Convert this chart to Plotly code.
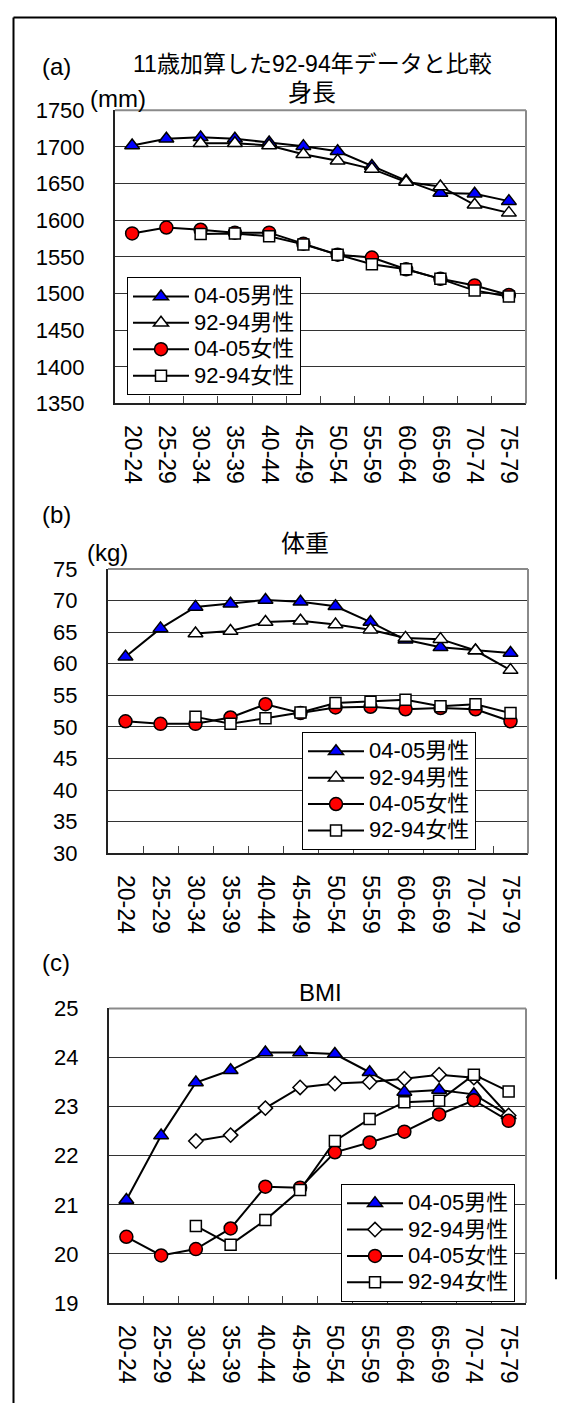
import plotly.graph_objects as go

# Age groups shared by all three panels
age_groups = ["20-24", "25-29", "30-34", "35-39", "40-44", "45-49",
              "50-54", "55-59", "60-64", "65-69", "70-74", "75-79"]

# (a) Height, mm
height_m_0405 = [1702, 1711, 1713, 1711, 1706, 1701, 1694, 1674, 1654, 1637, 1636, 1626]
height_m_9294 = [None, None, 1705, 1705, 1702, 1690, 1681, 1670, 1652, 1646, 1621, 1610]
height_f_0405 = [1582, 1590, 1587, 1583, 1583, 1568, 1553, 1549, 1533, 1520, 1511, 1498]
height_f_9294 = [None, None, 1581, 1582, 1578, 1567, 1553, 1540, 1533, 1520, 1504, 1496]

# (b) Weight, kg
weight_m_0405 = [61.1, 65.6, 69.0, 69.5, 70.1, 69.8, 69.1, 66.6, 63.8, 62.6, 62.1, 61.7]
weight_m_9294 = [None, None, 64.8, 65.2, 66.6, 66.8, 66.2, 65.4, 64.1, 63.9, 62.1, 59.0]
weight_f_0405 = [50.9, 50.5, 50.5, 51.5, 53.6, 52.2, 53.1, 53.2, 52.8, 53.0, 52.8, 50.9]
weight_f_9294 = [None, None, 51.6, 50.5, 51.4, 52.3, 53.8, 54.0, 54.3, 53.3, 53.6, 52.2]

# (c) BMI
bmi_m_0405 = [21.10, 22.41, 23.49, 23.74, 24.10, 24.10, 24.07, 23.70, 23.30, 23.34, 23.25, 22.82]
bmi_m_9294 = [None, None, 22.30, 22.42, 22.97, 23.39, 23.47, 23.50, 23.57, 23.65, 23.59, 22.82]
bmi_f_0405 = [20.35, 19.97, 20.10, 20.52, 21.37, 21.35, 22.07, 22.27, 22.49, 22.84, 23.13, 22.71]
bmi_f_9294 = [None, None, 20.57, 20.19, 20.69, 21.30, 22.30, 22.75, 23.09, 23.12, 23.65, 23.31]

series_names = ["04-05男性", "92-94男性", "04-05女性", "92-94女性"]

W, H = 569, 1416
FONT = "Liberation Sans, Noto Sans CJK JP, sans-serif"
FS = 22


def px_x(x):
    return x / W


def px_y(y):
    return 1 - y / H


panels = [
    dict(x=(115, 526), y=(100, 398.5), yr=(1350, 1750), dt=50,
         data=[height_m_0405, height_m_9294, height_f_0405, height_f_9294],
         sym2="triangle-up", sz2=13, leg=(127, 270)),
    dict(x=(108, 528), y=(567, 856.5), yr=(30, 75), dt=5,
         data=[weight_m_0405, weight_m_9294, weight_f_0405, weight_f_9294],
         sym2="triangle-up", sz2=13, leg=(302, 733)),
    dict(x=(109, 526), y=(1014.3, 1314.3), yr=(19, 25), dt=1,
         data=[bmi_m_0405, bmi_m_9294, bmi_f_0405, bmi_f_9294],
         sym2="diamond", sz2=11, leg=(341, 1193)),
]

fig = go.Figure()
layout = dict(
    width=W, height=H, margin=dict(l=0, r=0, t=0, b=0),
    paper_bgcolor="white", plot_bgcolor="white",
    font=dict(family=FONT, size=FS, color="black"),
    showlegend=True,
)

shapes = []
for i, p in enumerate(panels):
    n = i + 1
    xa = "x" if n == 1 else f"x{n}"
    ya = "y" if n == 1 else f"y{n}"
    leg = "legend" if n == 1 else f"legend{n}"
    styles = [
        dict(symbol="triangle-up", size=13, color="#0000FF"),
        dict(symbol=p["sym2"], size=p["sz2"], color="white"),
        dict(symbol="circle", size=13, color="#FF0000"),
        dict(symbol="square", size=11, color="white"),
    ]
    for name, vals, st in zip(series_names, p["data"], styles):
        fig.add_trace(go.Scatter(
            x=age_groups, y=vals,
            name=f"<span style='font-size:22px'>{name}</span>",
            mode="lines+markers",
            xaxis=xa, yaxis=ya, legend=leg, connectgaps=False,
            line=dict(color="black", width=2),
            marker=dict(symbol=st["symbol"], size=st["size"], color=st["color"],
                        line=dict(color="black", width=1.5)),
        ))

    xkey = "xaxis" if n == 1 else f"xaxis{n}"
    ykey = "yaxis" if n == 1 else f"yaxis{n}"
    layout[xkey] = dict(
        domain=[px_x(p["x"][0]), px_x(p["x"][1])], anchor=ya,
        type="category", range=[-0.5, 11.5], showgrid=False,
        showline=True, linecolor="#222222", linewidth=2,
        ticks="inside", tickson="boundaries", ticklen=7, tickcolor="#444444",
        tickwidth=1, tickangle=90, ticklabelstandoff=15,
        tickfont=dict(family=FONT, size=23),
    )
    layout[ykey] = dict(
        domain=[px_y(p["y"][1]), px_y(p["y"][0])], anchor=xa,
        range=list(p["yr"]), dtick=p["dt"], tick0=p["yr"][0],
        showgrid=True, gridcolor="#333333", gridwidth=1,
        showline=True, linecolor="#222222", linewidth=2,
        ticks="", ticklabelstandoff=24, zeroline=False,
        tickfont=dict(family=FONT, size=FS),
    )
    layout[leg] = dict(
        x=px_x(p["leg"][0]), y=px_y(p["leg"][1]), xanchor="left", yanchor="top",
        xref="paper", yref="paper",
        bgcolor="white", bordercolor="black", borderwidth=1,
        font=dict(family=FONT, size=18), itemwidth=56,
        tracegroupgap=0, traceorder="normal",
    )
    # gray top and right frame of the plotting area
    shapes.append(dict(type="line", xref=f"{xa} domain", yref=f"{ya} domain",
                       x0=0, x1=1, y0=1, y1=1, line=dict(color="#8a8a8a", width=2)))
    shapes.append(dict(type="line", xref=f"{xa} domain", yref=f"{ya} domain",
                       x0=1, x1=1, y0=0, y1=1, line=dict(color="#8a8a8a", width=2)))

# outer frame
shapes.append(dict(type="line", xref="paper", yref="paper",
                   x0=px_x(13.5), x1=px_x(556), y0=px_y(5.5), y1=px_y(5.5),
                   line=dict(color="black", width=2)))
shapes.append(dict(type="line", xref="paper", yref="paper",
                   x0=px_x(13.5), x1=px_x(13.5), y0=px_y(5.5), y1=0,
                   line=dict(color="black", width=2)))
shapes.append(dict(type="line", xref="paper", yref="paper",
                   x0=px_x(556), x1=px_x(556), y0=px_y(5.5), y1=px_y(1290),
                   line=dict(color="black", width=2)))
layout["shapes"] = shapes


def label(text, x, y, xanchor="center", size=24):
    return dict(text=text, x=px_x(x), y=px_y(y), xref="paper", yref="paper",
                xanchor=xanchor, yanchor="middle", showarrow=False,
                font=dict(family=FONT, size=size, color="black"))


layout["annotations"] = [
    label("(a)", 40, 55, "left"),
    label("11歳加算した92-94年データと比較", 312, 53, size=23),
    label("身長", 312, 82),
    label("(mm)", 88, 88, "left"),
    label("(b)", 40, 512, "left"),
    label("体重", 305, 541),
    label("(kg)", 85, 550, "left"),
    label("(c)", 40, 968, "left"),
    label("BMI", 320, 998),
]

fig.update_layout(**layout)
fig.write_html("out.html")
